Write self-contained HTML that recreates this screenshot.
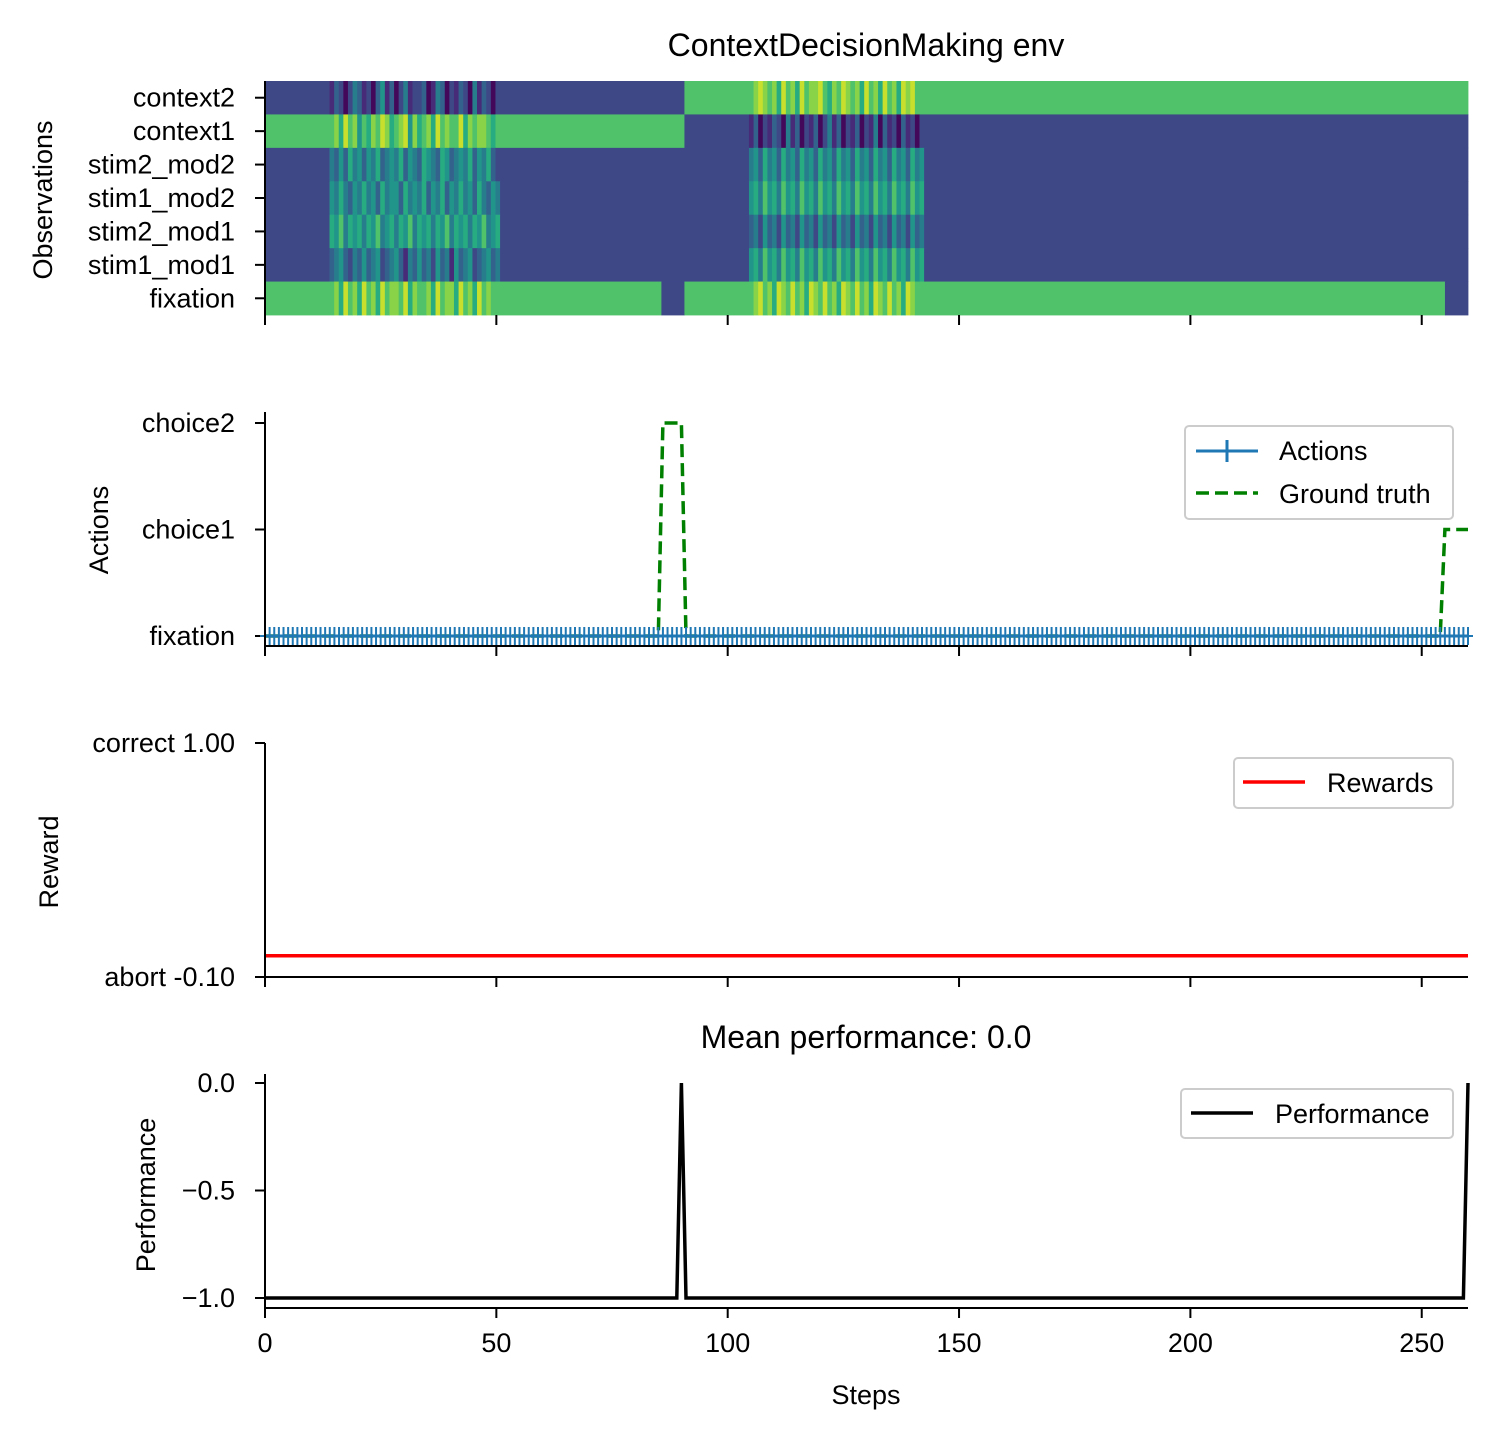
<!DOCTYPE html>
<html><head><meta charset="utf-8">
<style>
html,body{margin:0;padding:0;background:#fff;}
svg{display:block;font-family:"Liberation Sans",Arial,sans-serif;}
</style></head>
<body>
<svg id="chart" width="1500" height="1440" viewBox="0 0 1500 1440" xmlns="http://www.w3.org/2000/svg">
<rect width="1500" height="1440" fill="#fff"/>
<text x="866" y="56" font-size="32" text-anchor="middle">ContextDecisionMaking env</text>
<g id="p1"></g>
<g id="p2"></g>
<g id="p3"></g>
<g id="p4"></g>
</svg>
<script>
// ---------- data ----------
const obsRows = ["context2","context1","stim2_mod2","stim1_mod2","stim2_mod1","stim1_mod1","fixation"];
// colour levels (0-9); baseline 0 -> '2', baseline 1 -> '7'
const obsTrial1Noise = [
 "1320243120351302412230143021320413202",
 "7869785768798678958678697877968788767",
 "4353645354634546354365436534546354632",
 "5464354645364553645463546354645364354",
 "6574656465745646574656465746564657456",
 "3453243534523453143534253415345234534",
 "7869786978697887968778697886978697877"];
const obsTrial2Noise = [
 "78987869786978897687987869786978698977",
 "13021320413021302413021302140312031202",
 "45364536453645364536453645364536453645",
 "56475647564756475647564756475647564756",
 "34253425342534253425342534253425342534",
 "56475647564756475647564756475647564756",
 "78978698797869879786987978698797869877"];
const nSteps = 261;
const actions = new Array(nSteps).fill(0);
const groundTruth = [];
for(let i=0;i<nSteps;i++){ groundTruth.push(i>=86&&i<=90?2:(i>=255?1:0)); }
const rewards = new Array(nSteps).fill(0);
const performance = [];
for(let i=0;i<nSteps;i++){ performance.push(i===90||i===260?0:-1); }
const xTicks = [0,50,100,150,200,250];

// ---------- helpers ----------
const NS="http://www.w3.org/2000/svg";
const FS=27;
function mk(tag,attrs,parent){const e=document.createElementNS(NS,tag);for(const k in attrs)e.setAttribute(k,attrs[k]);parent.appendChild(e);return e;}
const X0=265, X1=1468;
const xs = v => X0 + (v/260)*(X1-X0);
const vir=[[0,[68,1,84]],[0.125,[71,44,122]],[0.25,[59,81,139]],[0.375,[44,113,142]],[0.5,[33,145,140]],[0.625,[39,173,129]],[0.75,[92,200,99]],[0.875,[170,220,50]],[1,[253,231,37]]];
function viridis(t){t=Math.max(0,Math.min(1,t));for(let i=1;i<vir.length;i++){if(t<=vir[i][0]){const a=vir[i-1],b=vir[i];const f=(t-a[0])/(b[0]-a[0]);const c=a[1].map((v,j)=>Math.round(v+(b[1][j]-v)*f));return `rgb(${c[0]},${c[1]},${c[2]})`;}}return "rgb(253,231,37)";}
function lvl(d){return 0.22+(d-2)*0.1;}
function xAxisTicks(g,y,labels){
  xTicks.forEach(v=>{
    const t=mk('line',{x1:xs(v),x2:xs(v),y1:y,y2:y+10,stroke:'#000','stroke-width':2},g);
    
    
    if(labels){const tx=mk('text',{x:xs(v),y:y+44,'font-size':FS,'text-anchor':'middle'},g);tx.textContent=v;
      
      }
  });
}
function yTick(g,y,label,name){
  const l=mk('line',{x1:X0-10,x2:X0,y1:y,y2:y,stroke:'#000','stroke-width':2},g);
  
  
  const t=mk('text',{x:X0-30,y:y+9,'font-size':FS,'text-anchor':'end'},g);t.textContent=label;
  
  
}
function ylabel(g,x,y,txt,name){
  const t=mk('text',{x:x,y:y,'font-size':FS,'text-anchor':'middle',transform:`rotate(-90 ${x} ${y})`},g);t.textContent=txt;
  
  
}

// ---------- panel 1: heatmap ----------
(function(){
  const g=document.getElementById('p1');
  const top=81,bot=315,rh=(bot-top)/7;
  const cw=(X1-X0)/nSteps;
  obsRows.forEach((name,r)=>{
    const row=[];
    for(let i=0;i<nSteps;i++){
      let d;
      if(name==='context2') d = i<=90?2:7;
      else if(name==='context1') d = i<=90?7:2;
      else if(name==='fixation') d = (i<=85||(i>=91&&i<=255))?7:2;
      else d=2;
      if(i>=14&&i<14+obsTrial1Noise[r].length) d=+obsTrial1Noise[r][i-14];
      if(i>=105&&i<105+obsTrial2Noise[r].length) d=+obsTrial2Noise[r][i-105];
      row.push(d);
    }
    let s=0;
    for(let i=1;i<=nSteps;i++){
      if(i===nSteps||row[i]!==row[s]){
        const c=mk('rect',{x:X0+s*cw,y:top+r*rh,width:(i-s)*cw+0.4,height:rh+0.4,fill:viridis(lvl(row[s]))},g);
        
        
        s=i;
      }
    }
    yTick(g,top+(r+0.5)*rh,name,'obs-'+name);
  });
  const sp=mk('line',{x1:X0,x2:X0,y1:top,y2:bot,stroke:'#000','stroke-width':2},g);
  
  
  xAxisTicks(g,bot,false);
  ylabel(g,52,200,'Observations','obs-y-axis-title');
})();

// ---------- panel 2: actions ----------
(function(){
  const g=document.getElementById('p2');
  const ys=v=>636-v*106.5;
  ['fixation','choice1','choice2'].forEach((n,i)=>yTick(g,ys(i),n,'act-'+n));
  let d=groundTruth.map((v,i)=>(i?'L':'M')+xs(i).toFixed(1)+' '+ys(v).toFixed(1)).join(' ');
  const gt=mk('path',{d:d,fill:'none',stroke:'#008000','stroke-width':3.5,'stroke-dasharray':'13 6'},g);
  
  
  d=actions.map((v,i)=>(i?'L':'M')+xs(i).toFixed(1)+' '+ys(v).toFixed(1)).join(' ');
  const al=mk('path',{d:d,fill:'none',stroke:'#1f77b4','stroke-width':3},g);
  
  
  actions.forEach((v,i)=>{
    const m=mk('path',{d:`M${xs(i)-5} ${ys(v)}h10M${xs(i)} ${ys(v)-9}v18`,stroke:'#1f77b4','stroke-width':2},g);
    
    
  });
  const ax=mk('path',{d:`M${X0} 412V646H${X1}`,fill:'none',stroke:'#000','stroke-width':2},g);
  
  
  xAxisTicks(g,646,false);
  ylabel(g,108,530,'Actions','actions-y-axis-title');
  const lg=mk('g',{},g);
  mk('rect',{x:1185,y:426,width:268,height:93,rx:4,fill:'#fff','fill-opacity':0.8,stroke:'#ccc','stroke-width':2},lg);
  mk('path',{d:'M1196 451h62M1227 440v22',stroke:'#1f77b4','stroke-width':3},lg);
  mk('path',{d:'M1196 493h62',stroke:'#008000','stroke-width':3.5,'stroke-dasharray':'13 6'},lg);
  const t1=mk('text',{x:1279,y:460,'font-size':FS},lg);t1.textContent='Actions';
  const t2=mk('text',{x:1279,y:503,'font-size':FS},lg);t2.textContent='Ground truth';
})();

// ---------- panel 3: reward ----------
(function(){
  const g=document.getElementById('p3');
  const ys=v=>977-(v+0.1)/1.1*234;
  yTick(g,ys(1),'correct 1.00','rew-correct');
  yTick(g,ys(-0.1),'abort -0.10','rew-abort');
  const d=rewards.map((v,i)=>(i?'L':'M')+xs(i).toFixed(1)+' '+ys(v).toFixed(1)).join(' ');
  const l=mk('path',{d:d,fill:'none',stroke:'#ff0000','stroke-width':3.5},g);
  
  
  const ax=mk('path',{d:`M${X0} 743V977H${X1}`,fill:'none',stroke:'#000','stroke-width':2},g);
  
  
  xAxisTicks(g,977,false);
  ylabel(g,58,862,'Reward','reward-y-axis-title');
  const lg=mk('g',{},g);
  mk('rect',{x:1234,y:758,width:219,height:50,rx:4,fill:'#fff','fill-opacity':0.8,stroke:'#ccc','stroke-width':2},lg);
  mk('path',{d:'M1243 782h62',stroke:'#ff0000','stroke-width':3.5},lg);
  const t=mk('text',{x:1327,y:792,'font-size':FS},lg);t.textContent='Rewards';
})();

// ---------- panel 4: performance ----------
(function(){
  const g=document.getElementById('p4');
  const ys=v=>1083-v*215;
  [[0,'0.0'],[-0.5,'\u22120.5'],[-1,'\u22121.0']].forEach(([v,l])=>yTick(g,ys(v),l,'perf-'+v));
  const d=performance.map((v,i)=>(i?'L':'M')+xs(i).toFixed(1)+' '+ys(v).toFixed(1)).join(' ');
  const l=mk('path',{d:d,fill:'none',stroke:'#000','stroke-width':3.5},g);
  
  
  const ax=mk('path',{d:`M${X0} 1074V1308H${X1}`,fill:'none',stroke:'#000','stroke-width':2},g);
  
  
  xAxisTicks(g,1308,true);
  ylabel(g,155,1195,'Performance','performance-y-axis-title');
  const xt=mk('text',{x:866,y:1404,'font-size':FS,'text-anchor':'middle'},g);xt.textContent='Steps';
  
  
  const tt=mk('text',{x:866,y:1048,'font-size':32,'text-anchor':'middle'},g);tt.textContent='Mean performance: 0.0';
  
  
  const lg=mk('g',{},g);
  mk('rect',{x:1181,y:1089,width:272,height:49,rx:4,fill:'#fff','fill-opacity':0.8,stroke:'#ccc','stroke-width':2},lg);
  mk('path',{d:'M1191 1113h62',stroke:'#000','stroke-width':3.5},lg);
  const t=mk('text',{x:1275,y:1123,'font-size':FS},lg);t.textContent='Performance';
})();
</script>
</body></html>
